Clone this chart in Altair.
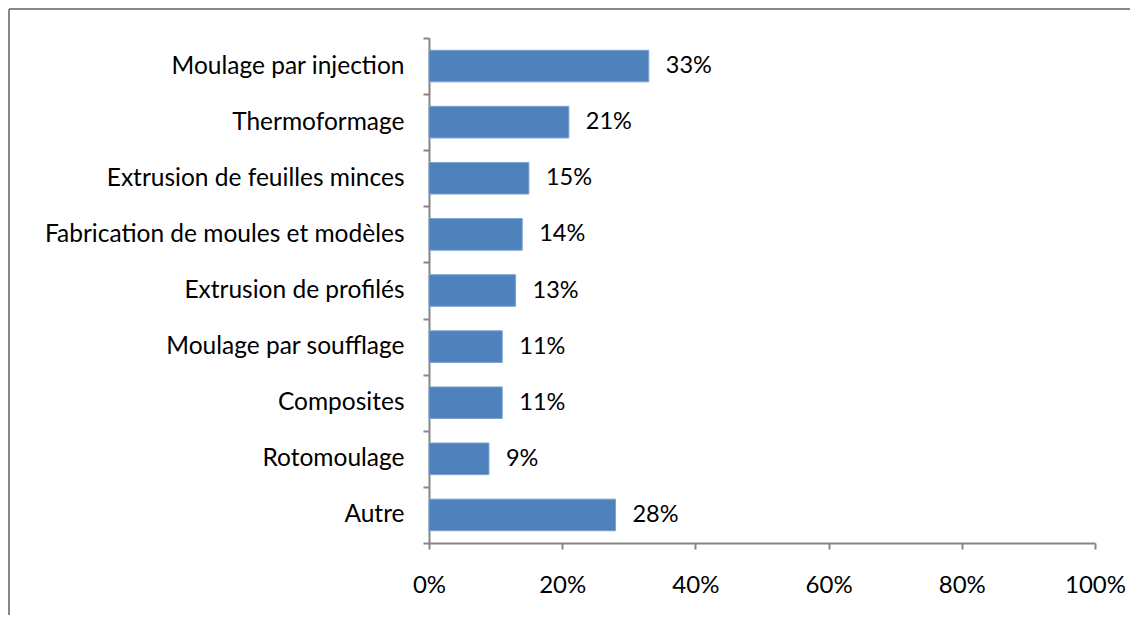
import altair as alt
import pandas as pd

categories = ["Moulage par injection", "Thermoformage", "Extrusion de feuilles minces",
              "Fabrication de moules et modèles", "Extrusion de profilés",
              "Moulage par soufflage", "Composites", "Rotomoulage", "Autre"]
values = [0.33, 0.21, 0.15, 0.14, 0.13, 0.11, 0.11, 0.09, 0.28]
x_ticks = [0, 0.2, 0.4, 0.6, 0.8, 1.0]

df = pd.DataFrame({"cat": categories, "val": values})

FONT = "Lato"
GREY = "#868686"

y_enc = alt.Y("cat:N", sort=categories, title=None,
              scale=alt.Scale(paddingInner=0, paddingOuter=0),
              axis=alt.Axis(tickBand="extent", tickSize=6, domainColor=GREY, tickColor=GREY,
                            domainWidth=2, tickWidth=2,
                            labelFontSize=24.5, labelFont=FONT, labelColor="#000000",
                            labelPadding=19, labelLimit=0))
x_enc = alt.X("val:Q", title=None,
              scale=alt.Scale(domain=[0, 1], nice=False),
              axis=alt.Axis(values=x_ticks, format=".0%", grid=False, tickSize=6,
                            domainColor=GREY, tickColor=GREY, domainWidth=2, tickWidth=2,
                            labelFontSize=24, labelFont=FONT, labelColor="#000000",
                            labelPadding=24, labelFlush=False))

bars = alt.Chart(df).mark_bar(color="#4F81BD", stroke="#7BA3D0", strokeWidth=1,
                              height=alt.RelativeBandSize(0.563)).encode(
    x=x_enc, y=y_enc)

labels = alt.Chart(df).mark_text(align="left", baseline="middle", dx=17, fontSize=23.5,
                                  font=FONT, color="#000000").encode(
    x="val:Q", y=alt.Y("cat:N", sort=categories), text=alt.Text("val:Q", format=".0%"))

border_left = alt.Chart(df).mark_rule(color=GREY, strokeWidth=2).encode(
    x=alt.value(-420), y=alt.value(-29), y2=alt.value(620))
border_top = alt.Chart(df).mark_rule(color=GREY, strokeWidth=2).encode(
    x=alt.value(-420), x2=alt.value(760), y=alt.value(-29))

chart = alt.layer(border_left, border_top, bars, labels).properties(
    width=666, height=505,
    padding={"left": 421, "top": 30, "right": 35, "bottom": 72},
    autosize=alt.AutoSizeParams(type="none"),
    background="white",
).configure_view(stroke=None)

chart.save("out.html", embed_options={"renderer": "svg", "actions": False})
